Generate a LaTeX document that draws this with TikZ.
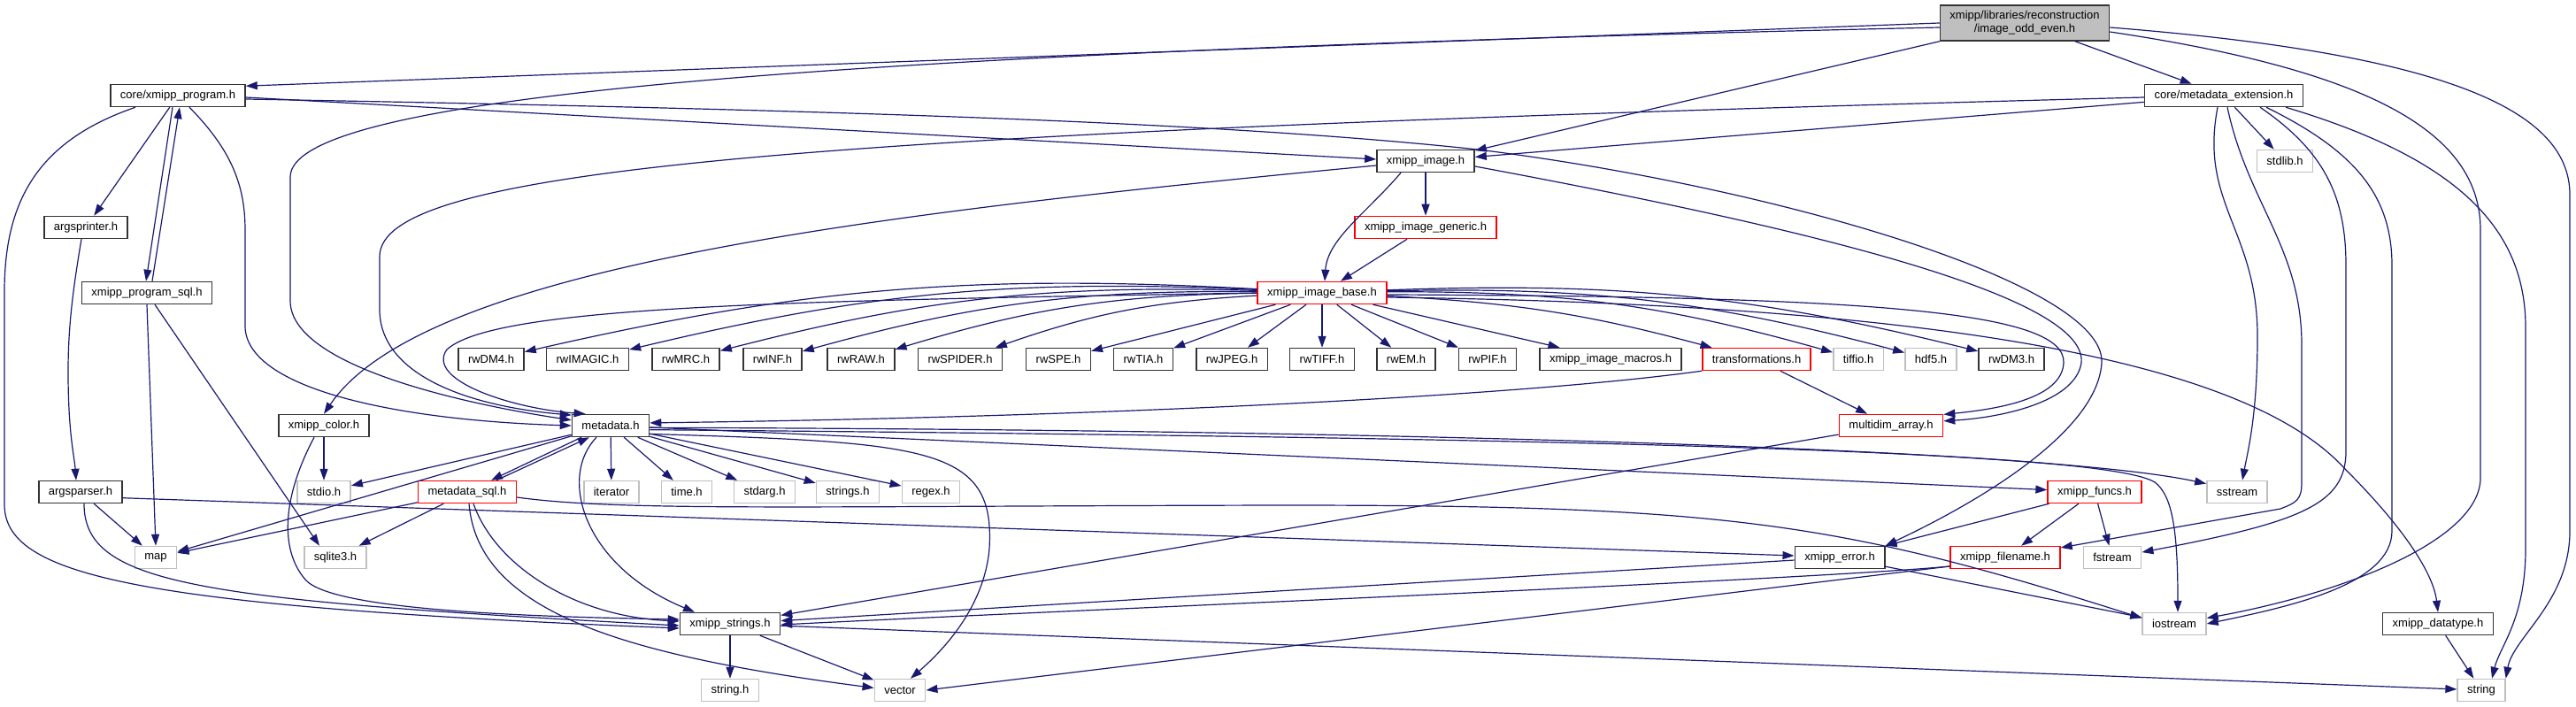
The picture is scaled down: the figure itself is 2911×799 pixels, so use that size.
\documentclass[tikz,border=0pt]{standalone}
\usepackage{fontspec}
\setmainfont{Liberation Sans}
\usetikzlibrary{arrows.meta}
\definecolor{midblue}{HTML}{191970}
\definecolor{sysgray}{HTML}{BFBFBF}

\begin{document}
\begin{tikzpicture}[x=1pt, y=-1pt,
    every node/.style={font=\fontsize{13}{15}\selectfont, inner xsep=11pt, inner ysep=2pt, minimum height=25pt},
    hdr/.style={draw=black!80, line width=1.5pt},
    redhdr/.style={draw=red, line width=1.5pt},
    syshdr/.style={draw=sysgray, line width=1.5pt},
    inc/.style={draw=midblue, line width=1.2pt, -{Triangle[length=13pt, width=9pt]}}]
  \useasboundingbox (0, 0) rectangle (2911, 799);

  \node[hdr, fill=sysgray, align=center, minimum height=40pt] (root) at (2288, 26) {xmipp/libraries/reconstruction\\/image\_odd\_even.h};
  \node[hdr] (prog) at (201, 108) {core/xmipp\_program.h};
  \node[hdr] (mdext) at (2513, 108) {core/metadata\_extension.h};
  \node[hdr] (image) at (1611, 182) {xmipp\_image.h};
  \node[syshdr] (stdlib) at (2582, 182) {stdlib.h};
  \node[hdr] (printer) at (97, 257) {argsprinter.h};
  \node[redhdr] (generic) at (1611, 257) {xmipp\_image\_generic.h};
  \node[hdr] (progsql) at (166, 331) {xmipp\_program\_sql.h};
  \node[redhdr] (base) at (1494, 331) {xmipp\_image\_base.h};
  \node[hdr] (dmfour) at (555, 406) {rwDM4.h};
  \node[hdr] (imagic) at (664, 406) {rwIMAGIC.h};
  \node[hdr] (mrc) at (775, 406) {rwMRC.h};
  \node[hdr] (inf) at (873, 406) {rwINF.h};
  \node[hdr] (raw) at (973, 406) {rwRAW.h};
  \node[hdr] (spider) at (1085, 406) {rwSPIDER.h};
  \node[hdr] (spe) at (1196, 406) {rwSPE.h};
  \node[hdr] (tia) at (1292, 406) {rwTIA.h};
  \node[hdr] (jpeg) at (1392, 406) {rwJPEG.h};
  \node[hdr] (tiff) at (1494, 406) {rwTIFF.h};
  \node[hdr] (em) at (1589, 406) {rwEM.h};
  \node[hdr] (pif) at (1681, 406) {rwPIF.h};
  \node[hdr] (macros) at (1820, 406) {xmipp\_image\_macros.h};
  \node[redhdr] (transf) at (1985, 406) {transformations.h};
  \node[syshdr] (tiffio) at (2100, 406) {tiffio.h};
  \node[syshdr] (hdf) at (2182, 406) {hdf5.h};
  \node[hdr] (dmthree) at (2273, 406) {rwDM3.h};
  \node[hdr] (color) at (366, 481) {xmipp\_color.h};
  \node[hdr] (metadata) at (690, 481) {metadata.h};
  \node[redhdr] (multidim) at (2137, 481) {multidim\_array.h};
  \node[hdr] (parser) at (91, 556) {argsparser.h};
  \node[syshdr] (stdio) at (366, 556) {stdio.h};
  \node[redhdr] (mdsql) at (528, 556) {metadata\_sql.h};
  \node[syshdr] (iterator) at (691, 556) {iterator};
  \node[syshdr] (time) at (776, 556) {time.h};
  \node[syshdr] (stdarg) at (864, 556) {stdarg.h};
  \node[syshdr] (strings) at (958, 556) {strings.h};
  \node[syshdr] (regex) at (1052, 556) {regex.h};
  \node[redhdr] (funcs) at (2367, 556) {xmipp\_funcs.h};
  \node[syshdr] (sstream) at (2528, 556) {sstream};
  \node[syshdr] (map) at (176, 630) {map};
  \node[syshdr] (sqlite) at (379, 630) {sqlite3.h};
  \node[hdr] (error) at (2079, 630) {xmipp\_error.h};
  \node[redhdr] (filename) at (2266, 630) {xmipp\_filename.h};
  \node[syshdr] (fstream) at (2387, 630) {fstream};
  \node[hdr] (xstrings) at (825, 705) {xmipp\_strings.h};
  \node[syshdr] (iostream) at (2457, 705) {iostream};
  \node[hdr] (datatype) at (2755, 705) {xmipp\_datatype.h};
  \node[syshdr] (stringh) at (825, 780) {string.h};
  \node[syshdr] (vector) at (1017, 780) {vector};
  \node[syshdr] (string) at (2804, 780) {string};

  \draw[inc] (root.west) -- (prog.8);
  \draw[inc] ([yshift=-5pt]root.west) .. controls (900, 60) and (328, 110) .. (328, 200) -- (328, 340) .. controls (328, 420) and (560, 462) .. (metadata.172);
  \draw[inc] (root.south west) -- (image.12);
  \draw[inc] (root) -- (mdext);
  \draw[inc] ([yshift=-5pt]root.east) .. controls (2750, 60) and (2904, 120) .. (2904, 220) -- (2904, 600) .. controls (2904, 680) and (2840, 720) .. (string.north east);
  \draw[inc] ([yshift=-10pt]root.east) .. controls (2680, 80) and (2803, 150) .. (2803, 260) -- (2803, 540) .. controls (2803, 610) and (2650, 670) .. (iostream.10);

  \draw[inc] (prog) -- (printer);
  \draw[inc] ([xshift=-6pt]prog.south) -- ([xshift=-1pt]progsql.north);
  \draw[inc] ([xshift=6pt]progsql.north) -- ([xshift=2pt]prog.south);
  \draw[inc] ([xshift=-48pt]prog.south) .. controls (40, 160) and (5, 230) .. (5, 330) -- (5, 570) .. controls (5, 650) and (150, 685) .. ([yshift=-5pt]xstrings.west);
  \draw[inc] ([xshift=13pt]prog.south) .. controls (262, 170) and (277, 210) .. (277, 260) -- (277, 370) .. controls (280, 440) and (450, 475) .. (metadata.180);
  \draw[inc] ([yshift=-2pt]prog.east) -- ([yshift=2pt]image.west);
  \draw[inc] ([yshift=-4pt]prog.east) .. controls (1000, 125) and (1400, 140) .. (1670, 169) .. controls (2000, 210) and (2380, 320) .. (2375, 410) .. controls (2370, 490) and (2230, 570) .. (error.north east);

  \draw[inc] ([yshift=-2pt]mdext.west) .. controls (900, 150) and (429, 190) .. (429, 290) -- (429, 350) .. controls (429, 420) and (520, 458) .. (metadata.165);
  \draw[inc] (mdext) -- (image);
  \draw[inc] (mdext) -- (stdlib);
  \draw[inc] ([xshift=-7pt]mdext.south) .. controls (2485, 230) and (2551, 260) .. (2551, 380) .. controls (2551, 470) and (2540, 510) .. ([xshift=6pt]sstream.north);
  \draw[inc] ([xshift=4pt]mdext.south) .. controls (2540, 230) and (2601, 280) .. (2601, 390) -- (2601, 545) .. controls (2601, 565) and (2595, 568) .. (2577, 575) -- (filename.10);
  \draw[inc] ([xshift=41pt]mdext.south) .. controls (2625, 170) and (2651, 220) .. (2651, 300) -- (2651, 510) .. controls (2651, 570) and (2600, 590) .. (fstream.10);
  \draw[inc] ([xshift=48pt]mdext.south) .. controls (2660, 170) and (2703, 220) .. (2703, 300) -- (2703, 600) .. controls (2703, 660) and (2590, 685) .. (iostream.east);
  \draw[inc] ([xshift=70pt]mdext.south) .. controls (2780, 180) and (2854, 260) .. (2854, 370) -- (2854, 620) .. controls (2854, 700) and (2825, 730) .. ([xshift=12pt]string.north);

  \draw[inc] (image) -- (generic);
  \draw[inc] ([xshift=-28pt]image.south) .. controls (1545, 240) and (1500, 270) .. ([xshift=3pt]base.north);
  \draw[inc] ([yshift=-5pt]image.west) .. controls (1000, 240) and (480, 300) .. (color.north);
  \draw[inc] ([yshift=-6pt]image.east) .. controls (2000, 250) and (2360, 330) .. (2352, 410) .. controls (2345, 455) and (2260, 472) .. (multidim.5);
  \draw[inc] (generic) -- (base);

  \draw[inc] (base) to[bend right=8] (dmfour);
  \draw[inc] (base) to[bend right=8] (imagic);
  \draw[inc] (base) to[bend right=8] (mrc);
  \draw[inc] (base) to[bend right=8] (inf);
  \draw[inc] (base) to[bend right=8] (raw);
  \draw[inc] (base) to[bend right=8] (spider);
  \draw[inc] (base) -- (spe);
  \draw[inc] (base) -- (tia);
  \draw[inc] (base) -- (jpeg);
  \draw[inc] (base) -- (tiff);
  \draw[inc] (base) -- (em);
  \draw[inc] (base) -- (pif);
  \draw[inc] (base) -- (macros);
  \draw[inc] (base) to[bend left=6] (transf);
  \draw[inc] (base) to[bend left=8] (tiffio);
  \draw[inc] (base) to[bend left=8] (hdf);
  \draw[inc] (base) to[bend left=8] (dmthree);
  \draw[inc] (base.west) .. controls (900, 340) and (560, 345) .. (505, 395) .. controls (480, 430) and (580, 462) .. (metadata.155);
  \draw[inc] ([yshift=-2pt]base.east) .. controls (2100, 335) and (2335, 350) .. (2332, 410) .. controls (2330, 450) and (2260, 462) .. (multidim.12);
  \draw[inc] ([yshift=-5pt]base.east) .. controls (2250, 345) and (2550, 420) .. (2650, 530) .. controls (2720, 600) and (2750, 650) .. (datatype.north);

  \draw[inc] (transf.south west) .. controls (1700, 450) and (1200, 472) .. (metadata.4);
  \draw[inc] (transf) -- (multidim);

  \draw[inc] (color) -- (stdio);
  \draw[inc] ([xshift=-11pt]color.south) .. controls (320, 560) and (315, 620) .. (345, 655) .. controls (375, 690) and (600, 697) .. ([yshift=5pt]xstrings.west);

  \draw[inc] (metadata) -- (stdio);
  \draw[inc] (metadata.195) -- (map.15);
  \draw[inc] ([xshift=-33pt]metadata.south) -- ([xshift=27pt]mdsql.north);
  \draw[inc] ([xshift=33pt]mdsql.north) -- ([xshift=-24pt]metadata.south);
  \draw[inc] (metadata) -- (iterator);
  \draw[inc] (metadata) -- (time);
  \draw[inc] (metadata) -- (stdarg);
  \draw[inc] (metadata) -- (strings);
  \draw[inc] (metadata) -- (regex);
  \draw[inc] (metadata.-12) .. controls (1050, 500) and (1125, 505) .. (1118, 620) .. controls (1112, 690) and (1060, 740) .. ([xshift=12pt]vector.north);
  \draw[inc] ([xshift=-16pt]metadata.south) .. controls (630, 540) and (660, 640) .. ([xshift=-40pt]xstrings.north);
  \draw[inc] (metadata.-3) .. controls (1500, 485) and (2300, 505) .. (sstream.165);
  \draw[inc] (metadata.-6) .. controls (1800, 495) and (2380, 510) .. (2435, 545) .. controls (2455, 560) and (2461, 600) .. ([xshift=4pt]iostream.north);
  \draw[inc] (metadata) -- (funcs);

  \draw[inc] (mdsql) -- (map);
  \draw[inc] (mdsql) -- (sqlite);
  \draw[inc] ([xshift=7pt]mdsql.south) .. controls (560, 640) and (650, 697) .. ([yshift=3pt]xstrings.west);
  \draw[inc] ([xshift=2pt]mdsql.south) .. controls (540, 690) and (700, 740) .. (vector.175);
  \draw[inc] ([yshift=-6pt]mdsql.east) .. controls (700, 578) and (900, 572) .. (1450, 571) .. controls (1950, 571) and (2080, 590) .. (iostream.170);

  \draw[inc] ([xshift=-5pt]printer.south) .. controls (82, 330) and (77, 370) .. (77, 420) .. controls (77, 490) and (84, 515) .. ([xshift=-5pt]parser.north);
  \draw[inc] (progsql.south) -- (map.north);
  \draw[inc] ([xshift=9pt]progsql.south) -- ([xshift=-18pt]sqlite.north);
  \draw[inc] (parser) -- (map);
  \draw[inc] ([xshift=4pt]parser.south) .. controls (95, 660) and (220, 678) .. ([yshift=-2pt]xstrings.west);
  \draw[inc] (parser.-8) -- ([yshift=2pt]error.west);

  \draw[inc] (funcs) -- (error);
  \draw[inc] (funcs) -- (filename);
  \draw[inc] (funcs) -- (fstream);
  \draw[inc] (multidim) -- (xstrings);
  \draw[inc] (error) -- (xstrings);
  \draw[inc] (error) -- (iostream);
  \draw[inc] ([yshift=-10pt]filename.west) .. controls (2050, 655) and (1200, 690) .. ([yshift=-1pt]xstrings.east);
  \draw[inc] ([yshift=-10pt]filename.west) -- (vector.east);
  \draw[inc] (xstrings) -- (stringh);
  \draw[inc] (xstrings) -- (vector);
  \draw[inc] (xstrings) -- (string);
  \draw[inc] (datatype) -- (string);
\end{tikzpicture}
\end{document}
